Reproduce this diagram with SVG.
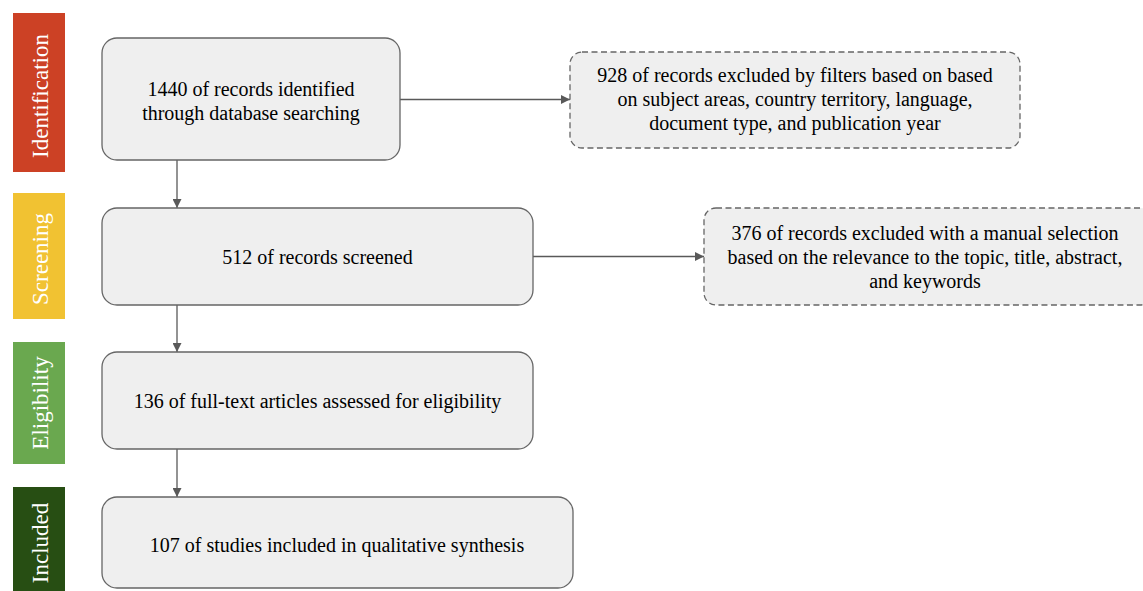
<svg xmlns="http://www.w3.org/2000/svg" width="1143" height="591" viewBox="0 0 1143 591">
<style>
.bar-label{font-family:"Liberation Serif","Times New Roman",serif;font-size:23px;fill:#ffffff;text-anchor:middle}
.box{fill:#efefef;stroke:#666666;stroke-width:1.3}
.dash{fill:#efefef;stroke:#666666;stroke-width:1.3;stroke-dasharray:6 3.5}
.main-text{font-family:"Liberation Serif","Times New Roman",serif;font-size:20px;fill:#000000;text-anchor:middle}
.conn{stroke:#595959;stroke-width:1.3;fill:none}
</style>
<defs>
<marker id="arr" viewBox="0 0 10 10" refX="10" refY="5" markerWidth="9" markerHeight="9" markerUnits="userSpaceOnUse" orient="auto">
<path d="M0,0 L10,5 L0,10 z" fill="#595959"/>
</marker>
</defs>
<rect width="1143" height="591" fill="#ffffff"/>

<g id="stage-identification">
<rect x="13" y="13" width="52" height="159" fill="#cc4125"/>
<text class="bar-label" transform="translate(48,96) rotate(-90)">Identification</text>
</g>
<g id="stage-screening">
<rect x="13" y="193" width="52" height="126" fill="#f1c232"/>
<text class="bar-label" transform="translate(48,259) rotate(-90)">Screening</text>
</g>
<g id="stage-eligibility">
<rect x="13" y="342" width="52" height="122" fill="#6aa84f"/>
<text class="bar-label" transform="translate(48,403) rotate(-90)">Eligibility</text>
</g>
<g id="stage-included">
<rect x="13" y="487" width="52" height="110" fill="#274e13"/>
<text class="bar-label" transform="translate(48,543) rotate(-90)">Included</text>
</g>

<g id="connectors">
<line class="conn" x1="177" y1="160" x2="177" y2="208" marker-end="url(#arr)"/>
<line class="conn" x1="177" y1="305" x2="177" y2="352" marker-end="url(#arr)"/>
<line class="conn" x1="177" y1="449" x2="177" y2="497" marker-end="url(#arr)"/>
<line class="conn" x1="400" y1="99.5" x2="570" y2="99.5" marker-end="url(#arr)"/>
<line class="conn" x1="533" y1="256.5" x2="704" y2="256.5" marker-end="url(#arr)"/>
</g>

<g id="node-identified">
<rect class="box" x="102" y="38" width="298" height="122" rx="15"/>
<text class="main-text" x="251" y="95.5">1440 of records identified</text>
<text class="main-text" x="251" y="119.5">through database searching</text>
</g>
<g id="node-excluded-filters">
<rect class="dash" x="570" y="52" width="450" height="96" rx="12"/>
<text class="main-text" x="795" y="82">928 of records excluded by filters based on based</text>
<text class="main-text" x="795" y="106">on subject areas, country territory, language,</text>
<text class="main-text" x="795" y="130">document type, and publication year</text>
</g>
<g id="node-screened">
<rect class="box" x="102" y="208" width="431" height="97" rx="15"/>
<text class="main-text" x="317.5" y="263.5">512 of records screened</text>
</g>
<g id="node-excluded-manual">
<rect class="dash" x="704" y="208" width="448" height="97" rx="12"/>
<text class="main-text" x="925" y="240">376 of records excluded with a manual selection</text>
<text class="main-text" x="925" y="264">based on the relevance to the topic, title, abstract,</text>
<text class="main-text" x="925" y="288">and keywords</text>
</g>
<g id="node-eligibility">
<rect class="box" x="102" y="352" width="431" height="97" rx="15"/>
<text class="main-text" x="317.5" y="407.5">136 of full-text articles assessed for eligibility</text>
</g>
<g id="node-included">
<rect class="box" x="102" y="497" width="471" height="91" rx="15"/>
<text class="main-text" x="337" y="551.5">107 of studies included in qualitative synthesis</text>
</g>
</svg>
